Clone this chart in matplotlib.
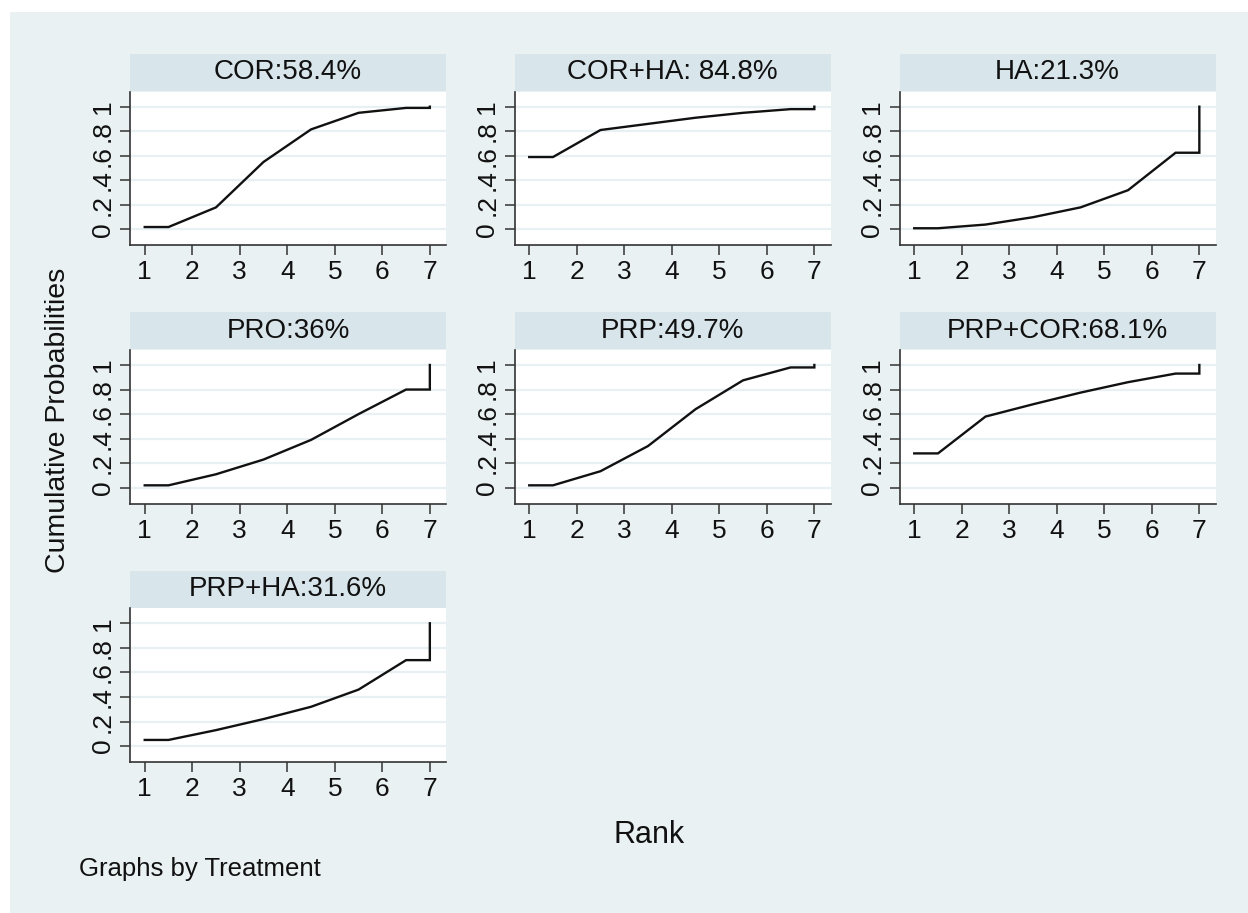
import numpy as np
import matplotlib
matplotlib.use("Agg")
import matplotlib.pyplot as plt
from matplotlib.patches import Rectangle

plt.rcParams['font.family'] = ['Liberation Sans', 'DejaVu Sans']

# ------------------------------------------------
# Data: cumulative ranking probabilities (ranks 1..7)
# ------------------------------------------------
treatments = ["COR:58.4%", "COR+HA: 84.8%", "HA:21.3%", "PRO:36%",
              "PRP:49.7%", "PRP+COR:68.1%", "PRP+HA:31.6%"]
ranks = [1, 2, 3, 4, 5, 6, 7]
cor = [0.02, 0.18, 0.55, 0.815, 0.95, 0.99, 1.0]
cor_ha = [0.59, 0.81, 0.86, 0.91, 0.95, 0.98, 1.0]
ha = [0.01, 0.04, 0.10, 0.18, 0.32, 0.625, 1.0]
pro = [0.02, 0.11, 0.23, 0.39, 0.60, 0.80, 1.0]
prp = [0.02, 0.135, 0.34, 0.64, 0.875, 0.98, 1.0]
prp_cor = [0.28, 0.58, 0.68, 0.775, 0.86, 0.93, 1.0]
prp_ha = [0.05, 0.13, 0.22, 0.32, 0.46, 0.70, 1.0]
series = [cor, cor_ha, ha, pro, prp, prp_cor, prp_ha]
ytick_vals = [0, 0.2, 0.4, 0.6, 0.8, 1]
ytick_labels = ["0", ".2", ".4", ".6", ".8", "1"]

BG = "#eaf1f3"
STRIP = "#d8e5ea"
GRID = "#e8f0f3"
W, H = 1248, 913

fig = plt.figure(figsize=(W / 100, H / 100), dpi=100, facecolor="white")
fig.patches.append(Rectangle((10 / W, 0), 1, 1 - 12 / H, transform=fig.transFigure,
                             facecolor=BG, edgecolor="none", zorder=-10))


def px_axes(left, top, width, height):
    return fig.add_axes([left / W, 1 - (top + height) / H, width / W, height / H])


# ------------------------------------------------
# Panels
# ------------------------------------------------
col_left = [130, 514.5, 899.5]
row_top = [91.7, 350.0, 608.3]
pw, ph = 316, 153.5
strip_h = 37

for i, (name, cum) in enumerate(zip(treatments, series)):
    r, c = divmod(i, 3)
    ax = px_axes(col_left[c], row_top[r], pw, ph)
    ax.set_facecolor("white")

    # Stata style line: flat to 1.5, then through rank midpoints, then up at 7
    xs = [ranks[0]] + [k + 0.5 for k in ranks[:-1]] + [ranks[-1], ranks[-1]]
    ys = [cum[0]] + cum[:-1] + [cum[-2], cum[-1]]
    ax.plot(xs, ys, color="#111111", lw=1.7, solid_joinstyle="miter", zorder=3)

    ax.set_xlim(0.69, 7.34)
    ax.set_ylim(-0.128, 1.122)
    ax.set_xticks(ranks)
    ax.set_yticks(ytick_vals)
    ax.set_yticklabels(ytick_labels, rotation=90, va="center")
    ax.yaxis.grid(True, color=GRID, lw=1.6)
    ax.set_axisbelow(True)
    for s in ["top", "right"]:
        ax.spines[s].set_visible(False)
    for s in ["left", "bottom"]:
        ax.spines[s].set_color("#333333")
        ax.spines[s].set_linewidth(1.2)
    ax.tick_params(direction="out", length=7, width=1.1, color="#333333",
                   labelsize=19, labelcolor="#111111", pad=4)

    # strip title on top
    ax.add_patch(Rectangle((0, 1.005), 1, strip_h / ph, transform=ax.transAxes,
                           facecolor=STRIP, edgecolor="none", clip_on=False))
    ax.text(0.5, 1.005 + strip_h / ph / 2, name, transform=ax.transAxes,
            ha="center", va="center", fontsize=20, color="#111111")

# ------------------------------------------------
# Shared titles
# ------------------------------------------------
fig.text(58 / W, 1 - 420 / H, "Cumulative Probabilities", rotation=90,
         ha="center", va="center", fontsize=20.5, color="#111111")
fig.text(649 / W, 1 - 835 / H, "Rank", ha="center", va="center",
         fontsize=22, color="#111111")
fig.text(79 / W, 1 - 869 / H, "Graphs by Treatment", ha="left", va="center",
         fontsize=18.5, color="#111111")

fig.savefig("out.png", dpi=100, facecolor=fig.get_facecolor())
